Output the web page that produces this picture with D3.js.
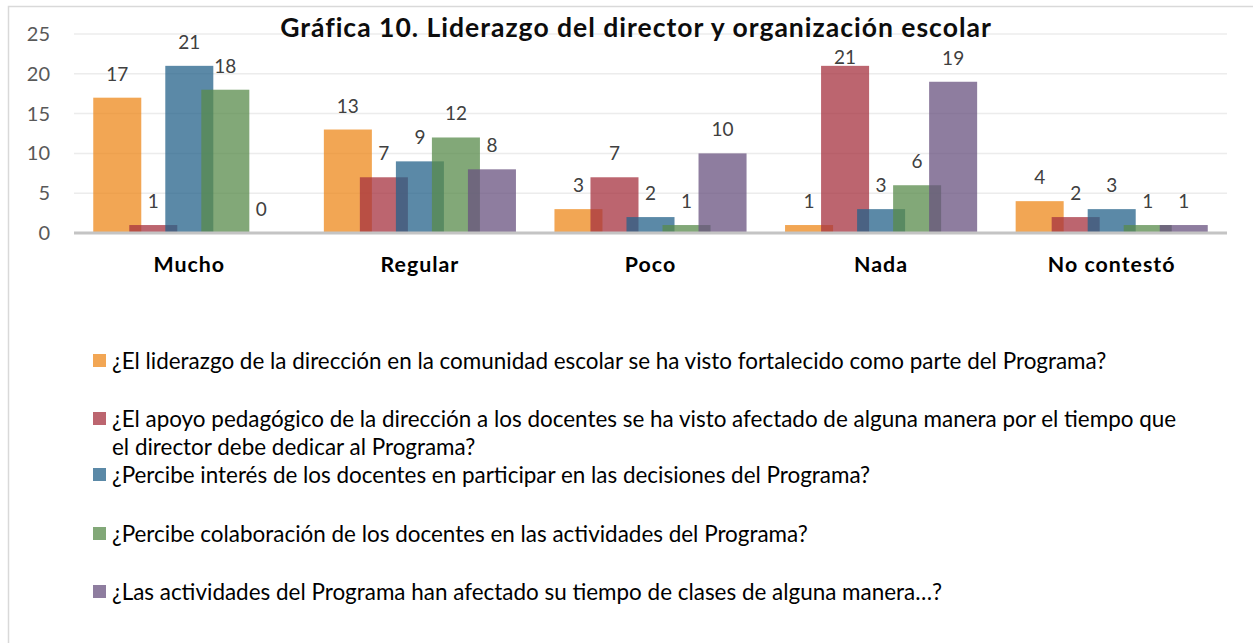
<!DOCTYPE html>
<html>
<head>
<meta charset="utf-8">
<script src="https://cdnjs.cloudflare.com/ajax/libs/d3/7.8.5/d3.min.js"></script>
<style>
  body { margin: 0; background: #fff; }
  text { font-family: Lato, "Open Sans", sans-serif; }
</style>
</head>
<body>
<div id="chart"></div>
<script>
// categories and series
var categories = ["Mucho", "Regular", "Poco", "Nada", "No contestó"];
var seriesNames = [
  ["¿El liderazgo de la dirección en la comunidad escolar se ha visto fortalecido como parte del Programa?"],
  ["¿El apoyo pedagógico de la dirección a los docentes se ha visto afectado de alguna manera por el tiempo que", "el director debe dedicar al Programa?"],
  ["¿Percibe interés de los docentes en participar en las decisiones del Programa?"],
  ["¿Percibe colaboración de los docentes en las actividades del Programa?"],
  ["¿Las actividades del Programa han afectado su tiempo de clases de alguna manera…?"]
];
var liderazgo    = [17, 13, 3, 1, 4];
var apoyo        = [1, 7, 7, 21, 2];
var interes      = [21, 9, 2, 3, 3];
var colaboracion = [18, 12, 1, 6, 1];
var tiempo       = [0, 8, 10, 19, 1];
var yTicks = [0, 5, 10, 15, 20, 25];
var title = "Gráfica 10. Liderazgo del director y organización escolar";

var colors = ["#EE881B", "#A6323F", "#24628A", "#588B4B", "#68527F"];
var allSeries = [liderazgo, apoyo, interes, colaboracion, tiempo];

var width = 1253, height = 643;
var margin = {top: 34, right: 26, bottom: 410, left: 74};

var svg = d3.select("#chart").append("svg")
    .attr("width", width)
    .attr("height", height);

svg.append("rect").attr("width", width).attr("height", height).attr("fill", "#fff");
svg.append("rect")
    .attr("x", 8.5).attr("y", 6.5)
    .attr("width", 1300).attr("height", 700)
    .attr("fill", "none").attr("stroke", "#d9d9d9").attr("stroke-width", 1.5);

var x0 = d3.scaleBand()
    .domain(categories)
    .range([margin.left, width - margin.right]);

var groupW = x0.bandwidth() * 0.833;
var step = groupW * 3 / 16;
var barW = step * 4 / 3;

var xs = d3.scalePoint()
    .domain(d3.range(allSeries.length))
    .range([0, step * (allSeries.length - 1)]);

var y = d3.scaleLinear()
    .domain([0, 25])
    .range([233, 34]);

function barX(si, ci) {
  return x0(categories[ci]) + (x0.bandwidth() - groupW) / 2 + xs(si);
}

// fit helper: font size so that one text hits the target width
function fit(sel, target) {
  var fs = +sel.attr("font-size");
  var w = sel.node().getComputedTextLength();
  return fs * target / w;
}

// gridlines
svg.append("g")
  .selectAll("line")
  .data(yTicks.filter(d => d > 0))
  .join("line")
    .attr("x1", margin.left).attr("x2", width - margin.right)
    .attr("y1", d => y(d)).attr("y2", d => y(d))
    .attr("stroke", "#ececec").attr("stroke-width", 1.5);

// y labels
var yAxis = d3.axisLeft(y).tickValues(yTicks).tickSize(0).tickPadding(0);
var gy = svg.append("g").attr("transform", "translate(50,0)").call(yAxis);
gy.select(".domain").remove();
gy.selectAll("text")
    .attr("font-size", 20)
    .attr("fill", "#595959")
    .style("font-family", "Lato, sans-serif");

// bars
var groups = svg.append("g")
  .selectAll("g")
  .data(allSeries)
  .join("g")
    .attr("fill", (d, i) => colors[i])
    .attr("fill-opacity", 0.75);

groups.each(function(vals, si) {
  d3.select(this).selectAll("rect")
    .data(vals)
    .join("rect")
      .attr("x", (v, ci) => barX(si, ci))
      .attr("y", v => y(v))
      .attr("width", barW)
      .attr("height", v => y(0) - y(v));
});

// baseline
svg.append("line")
    .attr("x1", margin.left).attr("x2", width - margin.right)
    .attr("y1", y(0)).attr("y2", y(0))
    .attr("stroke", "#c4c4c4").attr("stroke-width", 3);

// title
var t = svg.append("text")
    .attr("x", 636)
    .attr("y", 37)
    .attr("text-anchor", "middle")
    .attr("font-weight", "bold")
    .attr("font-size", 22)
    .attr("letter-spacing", 1)
    .attr("fill", "#0d0d0d")
    .text(title);
t.attr("font-size", fit(t, 724));
var tb = t.node().getBBox();

// data labels
var labels = [];
allSeries.forEach(function(vals, si) {
  svg.append("g")
    .selectAll("text")
    .data(vals)
    .join("text")
      .attr("x", (v, ci) => barX(si, ci) + barW / 2)
      .attr("y", v => y(v) - 17)
      .attr("text-anchor", "middle")
      .attr("font-size", 19)
      .attr("fill", "#404040")
      .text(v => v)
      .each(function() { labels.push(this); });
});
// push labels that hit the title down under it
labels.forEach(function(node) {
  var b = node.getBBox();
  if (b.x < tb.x + tb.width && b.x + b.width > tb.x && b.y < tb.y + tb.height) {
    var shift = tb.y + tb.height + 2 - b.y;
    d3.select(node).attr("y", +d3.select(node).attr("y") + shift);
  }
});

// category labels
var catLabels = svg.append("g")
  .selectAll("text")
  .data(categories)
  .join("text")
    .attr("x", d => x0(d) + x0.bandwidth() / 2)
    .attr("y", 272)
    .attr("text-anchor", "middle")
    .attr("font-weight", "bold")
    .attr("font-size", 20)
    .attr("letter-spacing", 1)
    .attr("fill", "#000")
    .text(d => d);
catLabels.attr("font-size", fit(catLabels.filter(d => d === "Mucho"), 72));

// legend
var legendY = [361, 419, 475, 534, 592];
var leg = svg.append("g");
var legTexts = [];
seriesNames.forEach(function(lines, i) {
  leg.append("rect")
    .attr("x", 93).attr("y", legendY[i] - 7)
    .attr("width", 13).attr("height", 13)
    .attr("fill", colors[i]).attr("fill-opacity", 0.75);
  lines.forEach(function(line, li) {
    var tx = leg.append("text")
      .attr("x", 112)
      .attr("y", legendY[i] + li * 28)
      .attr("dy", "0.35em")
      .attr("font-size", 19)
      .attr("fill", "#000")
      .text(line);
    legTexts.push(tx);
  });
});
var lfs = fit(legTexts[0], 995);
legTexts.forEach(tx => tx.attr("font-size", lfs));
</script>
</body>
</html>
